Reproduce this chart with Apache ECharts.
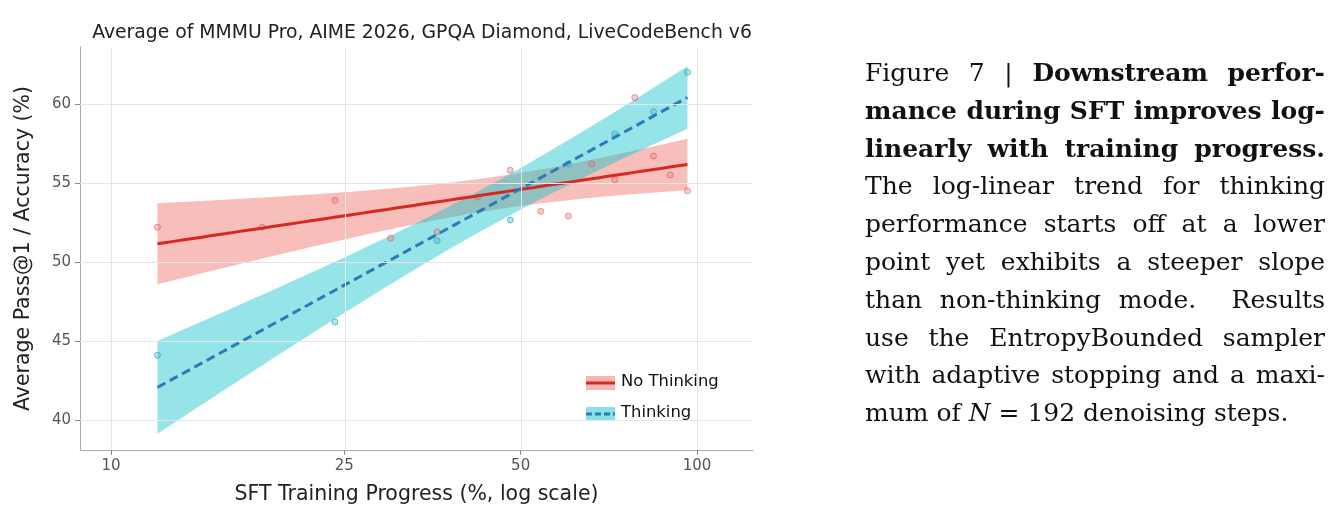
<!DOCTYPE html>
<html><head><meta charset="utf-8">
<script src="https://cdn.jsdelivr.net/npm/echarts@6/dist/echarts.min.js"></script>
<style>html,body{margin:0;padding:0;background:#fff}#c{width:1342px;height:528px}</style>
</head><body><div id="c"></div>
<script>
const noThinkX=[12.0,18.1,24.1,30.0,36.0,42.2,48.0,54.1,60.3,66.1,72.4,78.3,84.3,90.0,96.3];
const noThinkY=[52.2,52.2,53.9,51.5,51.9,54.1,55.8,53.2,52.9,56.2,55.2,60.4,56.7,55.5,54.5];
const thinkX=[12.0,24.1,36.0,48.0,60.3,72.4,84.3,96.3];
const thinkY=[44.1,46.2,51.35,52.65,56.2,58.1,59.5,62.0];
const xTicks=[10,25,50,100];
const yTicks=[40,45,50,55,60];
// word lists: r=regular, b=bold, i=italic
const captionLines=[
 [['Figure','r'],['7','r'],['|','r'],['Downstream','b'],['perfor-','b']],
 [['mance','b'],['during','b'],['SFT','b'],['improves','b'],['log-','b']],
 [['linearly','b'],['with','b'],['training','b'],['progress.','b']],
 [['The','r'],['log-linear','r'],['trend','r'],['for','r'],['thinking','r']],
 [['performance','r'],['starts','r'],['off','r'],['at','r'],['a','r'],['lower','r']],
 [['point','r'],['yet','r'],['exhibits','r'],['a','r'],['steeper','r'],['slope','r']],
 [['than','r'],['non-thinking','r'],['mode.','r'],['','r'],['Results','r']],
 [['use','r'],['the','r'],['EntropyBounded','r'],['sampler','r']],
 [['with','r'],['adaptive','r'],['stopping','r'],['and','r'],['a','r'],['maxi-','r']],
 [['mum','r'],['of','r'],['N','i'],['=','r'],['192','r'],['denoising','r'],['steps.','r']]
];
const L=Math.log10;
function fit(xs,ys,t){
  const u=xs.map(L),n=u.length;
  const mu=u.reduce((a,b)=>a+b)/n,my=ys.reduce((a,b)=>a+b)/n;
  let sxx=0,sxy=0;u.forEach((v,i)=>{sxx+=(v-mu)**2;sxy+=(v-mu)*(ys[i]-my);});
  const b=sxy/sxx,a=my-b*mu;
  let sse=0;u.forEach((v,i)=>{sse+=(ys[i]-a-b*v)**2;});
  const s=Math.sqrt(sse/(n-2));
  const u0=u[0],u1=u[n-1],line=[],band=[];
  for(let k=0;k<=60;k++){const x=u0+(u1-u0)*k/60;const yh=a+b*x;
    const h=t*s*Math.sqrt(1/n+(x-mu)**2/sxx);
    line.push([x,yh]);band.push([x,yh-h,yh+h]);}
  return {line,band};
}
const fr=fit(noThinkX,noThinkY,2.16), fb=fit(thinkX,thinkY,2.45);
const red='#d42a22', blue='#2b7bb9';
function bandSeries(band,color){
  return {type:'custom',silent:true,data:band,encode:{x:0,y:[1,2]},
    renderItem:(p,api)=>{
      if(p.dataIndex!==0) return null;
      const top=band.map(d=>api.coord([d[0],d[2]]));
      const bot=band.map(d=>api.coord([d[0],d[1]])).reverse();
      return {type:'polygon',shape:{points:top.concat(bot)},style:{fill:color}};
    }};
}
const FONT_SIZE=25, FAM='"DejaVu Serif"';
const fontOf=s=>(s==='b'?'bold ':s==='i'?'italic ':'')+FONT_SIZE+'px '+FAM;
const ctx=document.createElement('canvas').getContext('2d');
const LEFT=865, RIGHT=1325, caption=[];
captionLines.forEach((words,li)=>{
  const ws=words.map(w=>{ctx.font=fontOf(w[1]);return ctx.measureText(w[0]).width;});
  const tot=ws.reduce((a,b)=>a+b,0);
  const last=li===captionLines.length-1;
  ctx.font=fontOf('r');const sp=ctx.measureText(' ').width;
  const gap=last?sp:(RIGHT-LEFT-tot)/(words.length-1);
  let x=LEFT;
  words.forEach((w,i)=>{
    if(w[0]) caption.push({type:'text',left:x,top:62+li*37.8,style:{text:w[0],font:fontOf(w[1]),fill:'#111'}});
    x+=ws[i]+gap;
  });
});
const chart=echarts.init(document.getElementById('c'));
const gridLines=[...xTicks.map(v=>({xAxis:L(v)})),...yTicks.map(v=>({yAxis:v}))];
chart.setOption({
 animation:false,
 title:{text:'Average of MMMU Pro, AIME 2026, GPQA Diamond, LiveCodeBench v6',left:417,textAlign:'center',top:19,
   textStyle:{fontSize:18.8,fontWeight:'normal',color:'#222',fontFamily:'DejaVu Sans'}},
 grid:{left:80,right:589,top:47,bottom:78},
 xAxis:{type:'value',min:L(8.85),max:L(124.6),name:'SFT Training Progress (%, log scale)',nameLocation:'middle',nameGap:34,
   nameTextStyle:{fontSize:20.5,color:'#222',fontFamily:'DejaVu Sans'},
   axisLine:{lineStyle:{color:'#aaa'}},splitLine:{show:false},
   axisTick:{customValues:xTicks.map(L),length:5,lineStyle:{color:'#888'}},
   axisLabel:{customValues:xTicks.map(L),formatter:v=>String(Math.round(10**v)),fontSize:15,color:'#555',fontFamily:'DejaVu Sans',margin:9}},
 yAxis:{type:'value',min:38.1,max:63.6,name:'Average Pass@1 / Accuracy (%)',nameLocation:'middle',nameGap:46,
   nameTextStyle:{fontSize:20.5,color:'#222',fontFamily:'DejaVu Sans'},
   axisLine:{show:true,lineStyle:{color:'#aaa'}},splitLine:{show:false},
   axisTick:{show:true,customValues:yTicks,length:5,lineStyle:{color:'#888'}},
   axisLabel:{customValues:yTicks,fontSize:15,color:'#555',fontFamily:'DejaVu Sans',margin:9}},
 series:[
  {type:'line',data:[],silent:true,markLine:{silent:true,symbol:'none',label:{show:false},lineStyle:{color:'#e6e6e6',type:'solid',width:1},data:gridLines}},
  bandSeries(fr.band,'rgba(240,110,100,0.45)'),
  bandSeries(fb.band,'rgba(20,195,205,0.45)'),
  {type:'scatter',data:noThinkX.map((x,i)=>[L(x),noThinkY[i]]),symbolSize:6,itemStyle:{color:'rgba(240,120,120,0.45)',borderColor:'rgba(220,80,80,0.7)',borderWidth:1}},
  {type:'scatter',data:thinkX.map((x,i)=>[L(x),thinkY[i]]),symbolSize:6,itemStyle:{color:'rgba(60,190,210,0.5)',borderColor:'rgba(40,160,190,0.8)',borderWidth:1}},
  {type:'line',data:fr.line,symbol:'none',lineStyle:{color:red,width:3}},
  {type:'line',data:fb.line,symbol:'none',lineStyle:{color:blue,width:3,type:[9,5]}}
 ],
 graphic:[
  {type:'rect',shape:{x:586,y:376,width:29,height:14},style:{fill:'rgba(240,110,100,0.5)'}},
  {type:'line',shape:{x1:586,y1:383,x2:615,y2:383},style:{stroke:red,lineWidth:3}},
  {type:'text',left:621,top:374,style:{text:'No Thinking',font:'16.4px "DejaVu Sans"',fill:'#111'}},
  {type:'rect',shape:{x:586,y:407,width:29,height:14},style:{fill:'rgba(20,195,205,0.5)'}},
  {type:'line',shape:{x1:586,y1:414,x2:615,y2:414},style:{stroke:blue,lineWidth:3,lineDash:[6,3]}},
  {type:'text',left:621,top:405,style:{text:'Thinking',font:'16.4px "DejaVu Sans"',fill:'#111'}},
  ...caption
 ]
});
</script></body></html>
